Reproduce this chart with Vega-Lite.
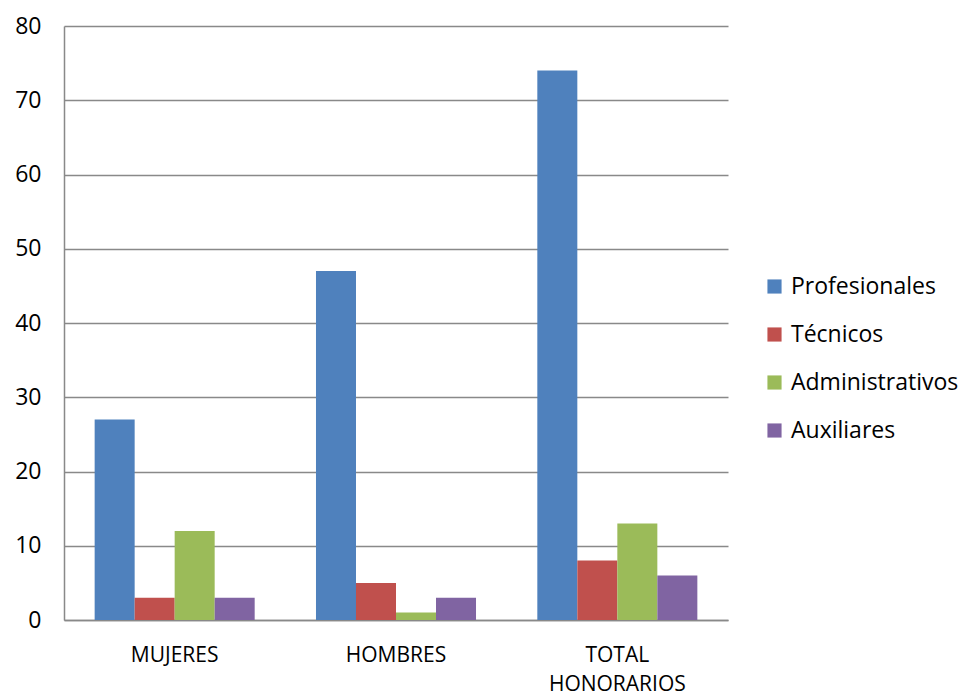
{
  "$schema": "https://vega.github.io/schema/vega-lite/v6.json",
  "autosize": {"type": "none"},
  "padding": {"left": 64, "top": 26, "right": 238, "bottom": 78},
  "width": 664,
  "height": 594,
  "background": "white",
  "config": {
    "font": "Open Sans",
    "view": {"stroke": null}
  },
  "data": {
    "values": [
      {"grupo": "MUJERES", "cargo": "Profesionales", "valor": 27},
      {"grupo": "MUJERES", "cargo": "Técnicos", "valor": 3},
      {"grupo": "MUJERES", "cargo": "Administrativos", "valor": 12},
      {"grupo": "MUJERES", "cargo": "Auxiliares", "valor": 3},
      {"grupo": "HOMBRES", "cargo": "Profesionales", "valor": 47},
      {"grupo": "HOMBRES", "cargo": "Técnicos", "valor": 5},
      {"grupo": "HOMBRES", "cargo": "Administrativos", "valor": 1},
      {"grupo": "HOMBRES", "cargo": "Auxiliares", "valor": 3},
      {"grupo": "TOTAL HONORARIOS", "cargo": "Profesionales", "valor": 74},
      {"grupo": "TOTAL HONORARIOS", "cargo": "Técnicos", "valor": 8},
      {"grupo": "TOTAL HONORARIOS", "cargo": "Administrativos", "valor": 13},
      {"grupo": "TOTAL HONORARIOS", "cargo": "Auxiliares", "valor": 6}
    ]
  },
  "mark": {"type": "bar"},
  "encoding": {
    "x": {
      "field": "grupo",
      "type": "nominal",
      "sort": ["MUJERES", "HOMBRES", "TOTAL HONORARIOS"],
      "scale": {"paddingInner": 0.277, "paddingOuter": 0.1385},
      "axis": {
        "title": null,
        "labelAngle": 0,
        "labelFontSize": 21,
        "labelColor": "#000000",
        "labelPadding": 24,
        "labelLineHeight": 29,
        "labelExpr": "datum.value == 'TOTAL HONORARIOS' ? ['TOTAL', 'HONORARIOS'] : datum.value",
        "ticks": false,
        "domainColor": "#898989",
        "domainWidth": 1.5
      }
    },
    "xOffset": {
      "field": "cargo",
      "type": "nominal",
      "sort": ["Profesionales", "Técnicos", "Administrativos", "Auxiliares"],
      "scale": {"paddingInner": 0, "paddingOuter": 0}
    },
    "y": {
      "field": "valor",
      "type": "quantitative",
      "scale": {"domain": [0, 80], "nice": false},
      "axis": {
        "title": null,
        "values": [0, 10, 20, 30, 40, 50, 60, 70, 80],
        "labelFontSize": 23,
        "labelColor": "#000000",
        "labelPadding": 23,
        "ticks": false,
        "gridColor": "#898989",
        "gridWidth": 1.5,
        "domainColor": "#898989",
        "domainWidth": 1.5
      }
    },
    "color": {
      "field": "cargo",
      "type": "nominal",
      "sort": ["Profesionales", "Técnicos", "Administrativos", "Auxiliares"],
      "scale": {
        "domain": ["Profesionales", "Técnicos", "Administrativos", "Auxiliares"],
        "range": ["#4F81BD", "#C0504D", "#9BBB59", "#8064A2"]
      },
      "legend": {
        "title": null,
        "orient": "none",
        "legendX": 699,
        "legendY": 249,
        "symbolType": "square",
        "symbolSize": 200,
        "symbolStrokeWidth": 0,
        "labelFontSize": 23,
        "labelColor": "#000000",
        "labelOffset": 5,
        "labelLimit": 400,
        "rowPadding": 24
      }
    }
  }
}
